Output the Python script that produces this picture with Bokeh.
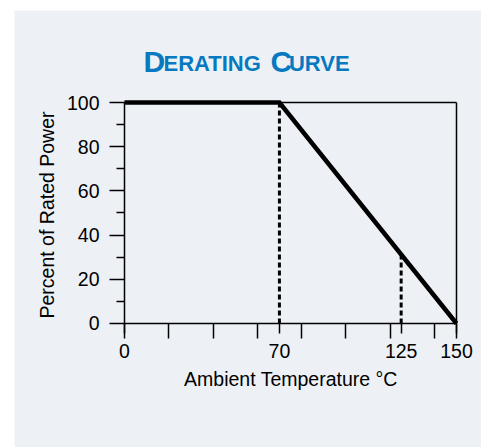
from bokeh.plotting import figure
from bokeh.models import Range1d, FixedTicker, ColumnDataSource
from bokeh.core.properties import value
from bokeh.embed import file_html
from bokeh.resources import INLINE
import math

# ---- data ----
temp = [0, 70, 150]
power = [100, 100, 0]
dash_x = [70, 125]
dash_bottom = [0, 0]
dash_top = [100, 31.25]
x_major = [0, 70, 125, 150]
x_minor = [0, 20, 40, 60, 80, 100, 120, 140, 150]
y_major = [0, 20, 40, 60, 80, 100]
y_minor = [10, 30, 50, 70, 90]
x_limits = [0, 150]
y_limits = [0, 100]
title_text = ["D", "ERATING", "C", "URVE"]
title_x = [8.6, 17.6, 66.0, 74.3]
title_y = [118.73, 117.47, 118.73, 117.47]
title_size = ["30px", "22px", "30px", "22px"]
x_label = "Ambient Temperature °C"
y_label = "Percent of Rated Power"

PANEL = "#EDF1F6"
BLUE = "#0679C1"
FONT = "Liberation Sans"

p = figure(width=467, height=437, output_backend="svg", toolbar_location=None,
           x_range=Range1d(-49.70, 161.30), y_range=Range1d(-56.11, 141.63),
           min_border=0, margin=(10, 0, 0, 14))
p.title.visible = False
p.background_fill_color = PANEL
p.border_fill_color = PANEL
p.outline_line_color = None
p.grid.visible = False

# frame top and right edges
p.line(x_limits, [y_limits[1], y_limits[1]], line_color="black", line_width=1.5)
p.line([x_limits[1], x_limits[1]], y_limits, line_color="black", line_width=1.5)

# dashed guides
p.segment(x0=dash_x, y0=dash_bottom, x1=dash_x, y1=dash_top, line_color="black",
          line_width=3, line_dash="5 3")

# derating curve
p.line(temp, power, line_color="black", line_width=4.5, line_join="miter")

# small-caps title
tsrc = ColumnDataSource(dict(x=title_x, y=title_y, text=title_text, size=title_size))
p.text(x="x", y="y", text="text", source=tsrc, text_font=value(FONT),
       text_font_style="bold", text_font_size="size", text_color=BLUE,
       text_align="left", text_baseline="middle")

# axis titles
p.text(x=[75.2], y=[-25.07], text=[x_label], text_font=value(FONT), text_font_size="19.5px",
       text_color="black", text_align="center", text_baseline="middle")
p.text(x=[-35.06], y=[49.1], text=[y_label], angle=math.pi / 2, text_font=value(FONT),
       text_font_size="19.5px", text_color="black", text_align="center",
       text_baseline="middle")

xa = p.xaxis[0]
xa.fixed_location = 0
xa.ticker = FixedTicker(ticks=x_major, minor_ticks=x_minor)
xa.bounds = (0, 150)
xa.major_tick_in = 0
xa.major_tick_out = 10
xa.minor_tick_in = 0
xa.minor_tick_out = 15
xa.major_label_standoff = 6

ya = p.yaxis[0]
ya.fixed_location = 0
ya.ticker = FixedTicker(ticks=y_major, minor_ticks=y_minor)
ya.bounds = (0, 100)
ya.major_tick_in = 0
ya.major_tick_out = 15
ya.minor_tick_in = 0
ya.minor_tick_out = 8
ya.major_label_standoff = 10

for ax in (xa, ya):
    ax.axis_line_color = "black"
    ax.axis_line_width = 1.5
    ax.major_tick_line_color = "black"
    ax.major_tick_line_width = 1.5
    ax.minor_tick_line_color = "black"
    ax.minor_tick_line_width = 1.5
    ax.major_label_text_font = FONT
    ax.major_label_text_font_size = "19.5px"
    ax.major_label_text_color = "black"

open("out.html", "w").write(file_html(p, INLINE))
